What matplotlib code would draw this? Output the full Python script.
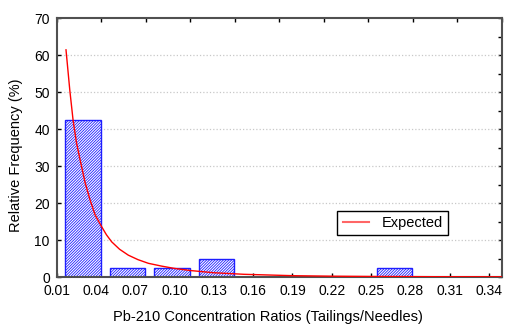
import matplotlib
matplotlib.use("Agg")
import matplotlib.pyplot as plt
import numpy as np

plt.rcParams['font.family'] = ['Liberation Sans', 'DejaVu Sans']
plt.rcParams['hatch.linewidth'] = 0.6

# Histogram bins (ratio) and relative frequencies (%)
bin_edges = [0.01, 0.044, 0.078, 0.112, 0.146, 0.18, 0.214, 0.248, 0.282, 0.316, 0.35]
rel_freq = [42.5, 2.5, 2.5, 5.0, 0.0, 0.0, 0.0, 2.5, 0.0, 0.0]

# Expected curve, points
exp_x = [0.0171, 0.0200, 0.0225, 0.0250, 0.0279, 0.0317, 0.0355, 0.0393, 0.0443, 0.048,
         0.052, 0.058, 0.0647, 0.072, 0.080, 0.090, 0.0994, 0.112, 0.130, 0.153,
         0.191, 0.22, 0.25, 0.30, 0.35]
exp_y = [61.4, 50.5, 42.4, 36.5, 31.6, 25.5, 20.8, 16.8, 13.6, 11.4,
         9.5, 7.5, 5.9, 4.7, 3.7, 2.95, 2.35, 1.75, 1.15, 0.73,
         0.35, 0.22, 0.15, 0.08, 0.05]

xtick_vals = [0.01, 0.04, 0.07, 0.10, 0.13, 0.16, 0.19, 0.22, 0.25, 0.28, 0.31, 0.34]
xtick_labels = ["0.01", "0.04", "0.07", "0.10", "0.13", "0.16", "0.19", "0.22", "0.25", "0.28", "0.31", "0.34"]
ytick_vals = [0, 10, 20, 30, 40, 50, 60, 70]

fig = plt.figure(figsize=(5.09, 3.27), dpi=100)
ax = fig.add_axes([0.1114, 0.1529, 0.8748, 0.792])

edges = np.array(bin_edges)
binw = np.diff(edges)
ax.bar(edges[:-1] + 0.19 * binw, rel_freq, width=0.8 * binw, align='edge',
       facecolor='white', edgecolor='#1E1EFF', hatch='////////////', linewidth=1.0, zorder=2)

ax.plot(exp_x, exp_y, color='#FF0000', lw=1.0, label='Expected', zorder=3)

ax.set_xlim(edges[0], edges[-1])
ax.set_ylim(0, 70)
ax.set_xticks(xtick_vals)
ax.set_xticklabels(xtick_labels)
ax.set_yticks(ytick_vals)
ax.tick_params(direction='in', length=3, width=1, labelsize=10, colors='#000000')
ax.tick_params(axis='x', pad=5)
ax.tick_params(axis='y', pad=5)

for y in ytick_vals[1:-1]:
    ax.axhline(y, color='#C8C8C8', lw=0.9, ls=':', zorder=1)

for s in ax.spines.values():
    s.set_color('#505050')
    s.set_linewidth(1.5)

top = ax.secondary_xaxis('top')
top.set_xticks(list(edges))
top.tick_params(direction='in', length=3, width=1, labeltop=False)
right = ax.secondary_yaxis('right')
right.set_yticks(list(range(0, 71, 5)))
right.tick_params(direction='in', length=3, width=1, labelright=False)
top.spines['top'].set_visible(False)
right.spines['right'].set_visible(False)

ax.set_xlabel('Pb-210 Concentration Ratios (Tailings/Needles)', fontsize=10.5)
ax.set_ylabel('Relative Frequency (%)', fontsize=10.5)
ax.xaxis.set_label_coords(0.4745, -0.128)
ax.yaxis.set_label_coords(-0.076, 0.471)

leg = ax.legend(loc='upper left', bbox_to_anchor=(0.6305, 0.254), fontsize=10.5,
                frameon=True, fancybox=False, edgecolor='#000000', framealpha=1,
                handlelength=1.8, handletextpad=0.9, borderpad=0.35, borderaxespad=0)
leg.get_frame().set_linewidth(1.0)
leg.get_lines()[0].set_color('#FF6666')
leg.get_lines()[0].set_linewidth(1.5)

fig.savefig('out.png', dpi=100)
